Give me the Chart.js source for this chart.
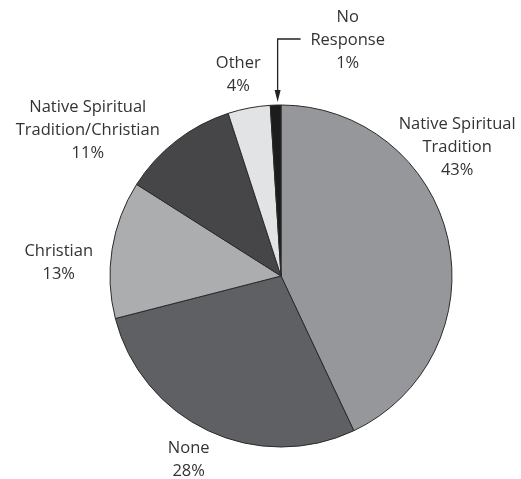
<!DOCTYPE html>
<html>
<head>
<meta charset="utf-8">
<script src="https://cdn.jsdelivr.net/npm/chart.js@4/dist/chart.umd.min.js"></script>
<style>
  html, body { margin: 0; padding: 0; background: #fff; }
  #wrap { width: 521px; height: 479px; }
</style>
</head>
<body>
<div id="wrap"><canvas id="pieChart" width="521" height="479"></canvas></div>
<script>
// data
const categories = ['Native Spiritual Tradition', 'None', 'Christian', 'Native Spiritual Tradition/Christian', 'Other', 'No Response'];
const percents = [43, 28, 13, 11, 4, 1];
const labelLines = [
    ['Native Spiritual', 'Tradition', '43%'],
    ['None', '28%'],
    ['Christian', '13%'],
    ['Native Spiritual', 'Tradition/Christian', '11%'],
    ['Other', '4%'],
    ['No', 'Response', '1%']
];
const sliceColors = ['#96979a', '#5f6063', '#acadaf', '#464648', '#e2e3e5', '#1c1c1c'];

// label centres, in units of the pie radius from the pie centre
const labelSpots = [
    [1.03, -0.75],
    [-0.54, 1.076],
    [-1.30, -0.08],
    [-1.13, -0.85],
    [-0.25, -1.178],
    [0.39, -1.38]
];

const labelPlugin = {
    id: 'pieLabels',
    afterDraw(chart) {
        const ctx = chart.ctx;
        const arcs = chart.getDatasetMeta(0).data;
        const cx = arcs[0].x;
        const cy = arcs[0].y;
        const r = arcs[0].outerRadius;

        ctx.save();
        ctx.font = '16.5px "Open Sans", Arial, sans-serif';
        ctx.fillStyle = '#333333';
        ctx.textAlign = 'center';
        ctx.textBaseline = 'middle';
        const lineH = 23;
        labelLines.forEach((lines, i) => {
            const x = cx + labelSpots[i][0] * r;
            const y = cy + labelSpots[i][1] * r;
            const top = y - (lines.length - 1) * lineH / 2;
            lines.forEach((t, j) => ctx.fillText(t, x, top + j * lineH));
        });

        // leader arrow for the small "No Response" slice
        const a = arcs[5];
        const mid = (a.startAngle + a.endAngle) / 2;
        const ax = cx + Math.cos(mid) * r + 2;
        const tipY = cy + Math.sin(mid) * r - 3;
        const bendY = cy - r - 66;
        ctx.strokeStyle = '#222222';
        ctx.lineWidth = 1.3;
        ctx.beginPath();
        ctx.moveTo(ax + 23, bendY);
        ctx.lineTo(ax, bendY);
        ctx.lineTo(ax, tipY - 8);
        ctx.stroke();
        ctx.fillStyle = '#222222';
        ctx.beginPath();
        ctx.moveTo(ax - 3, tipY - 12);
        ctx.lineTo(ax + 3, tipY - 12);
        ctx.lineTo(ax, tipY);
        ctx.closePath();
        ctx.fill();
        ctx.restore();
    }
};

const ctx = document.getElementById('pieChart').getContext('2d');
new Chart(ctx, {
    type: 'pie',
    data: {
        labels: categories,
        datasets: [{
            data: percents,
            backgroundColor: sliceColors,
            borderColor: '#2a2a2a',
            borderWidth: 1
        }]
    },
    options: {
        responsive: false,
        animation: false,
        radius: 171,
        layout: { padding: { left: 100, right: 59, top: 100, bottom: 27 } },
        plugins: {
            legend: { display: false },
            tooltip: { enabled: false }
        }
    },
    plugins: [labelPlugin]
});
</script>
</body>
</html>
